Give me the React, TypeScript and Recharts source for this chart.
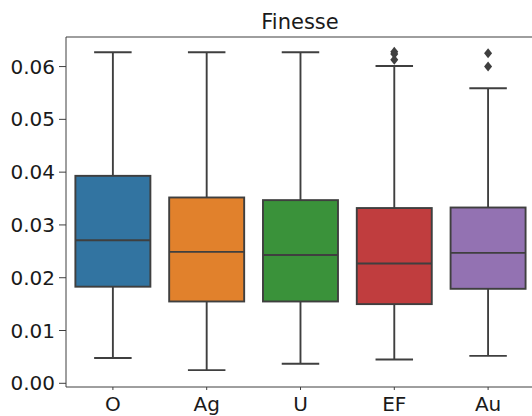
import React from 'react';
import { ComposedChart, Bar, XAxis, YAxis, ReferenceLine } from 'recharts';

// groups on the x axis
const categories = ['O', 'Ag', 'U', 'EF', 'Au'];
// box plot statistics
const whiskerLow = [0.0048, 0.0025, 0.0037, 0.0045, 0.0052];
const q1 = [0.0183, 0.0155, 0.0155, 0.0150, 0.0179];
const median = [0.0271, 0.0249, 0.0243, 0.0227, 0.0247];
const q3 = [0.0393, 0.0352, 0.0347, 0.0332, 0.0333];
const whiskerHigh = [0.0627, 0.0627, 0.0627, 0.0601, 0.0559];
const outliers: number[][] = [[], [], [], [0.0628, 0.0624, 0.0613], [0.0625, 0.0600]];
const yTicks = [0, 0.01, 0.02, 0.03, 0.04, 0.05, 0.06];
const yMin = -0.0007;
const yMax = 0.0656;

const COLORS = ['#3274a1', '#e1812c', '#3a923a', '#c03d3e', '#9372b2'];
const LINE = '#3f3f3f';
const FONT = '"DejaVu Sans", sans-serif';
const LW = 1.9;

const data = categories.map((name, i) => ({
  name,
  range: [whiskerLow[i], whiskerHigh[i]],
  low: whiskerLow[i],
  q1: q1[i],
  median: median[i],
  q3: q3[i],
  high: whiskerHigh[i],
  outliers: outliers[i],
}));

// the bar spans low..high whisker, so its pixel box gives the y scale for the rest
const BoxShape = (props: any) => {
  const { x, y, width, height, payload, index } = props;
  const { low, high } = payload;
  const ppu = height / (high - low);
  const py = (v: number) => y + (high - v) * ppu;
  const cx = x + width / 2;
  const cap = width / 4;
  const top = py(payload.q3);
  const bot = py(payload.q1);
  const med = py(payload.median);
  return (
    <g>
      <line x1={cx} x2={cx} y1={py(high)} y2={top} stroke={LINE} strokeWidth={LW} />
      <line x1={cx} x2={cx} y1={bot} y2={py(low)} stroke={LINE} strokeWidth={LW} />
      <line x1={cx - cap} x2={cx + cap} y1={py(high)} y2={py(high)} stroke={LINE} strokeWidth={LW} />
      <line x1={cx - cap} x2={cx + cap} y1={py(low)} y2={py(low)} stroke={LINE} strokeWidth={LW} />
      <rect x={x} y={top} width={width} height={bot - top} fill={COLORS[index]} stroke={LINE} strokeWidth={LW} />
      <line x1={x} x2={x + width} y1={med} y2={med} stroke={LINE} strokeWidth={LW} />
      {payload.outliers.map((v: number, k: number) => {
        const oy = py(v);
        return (
          <polygon
            key={k}
            points={`${cx},${oy - 5} ${cx + 4},${oy} ${cx},${oy + 5} ${cx - 4},${oy}`}
            fill={LINE}
          />
        );
      })}
    </g>
  );
};

export default function App() {
  return (
    <div style={{ position: 'absolute', left: 0, top: 0, width: 532, height: 416, overflow: 'hidden', background: '#fff' }}>
      <svg width={532} height={40} style={{ position: 'absolute', left: 0, top: 0 }}>
        <text x={300} y={29} textAnchor="middle" fontFamily={FONT} fontSize={21} fill="#1a1a1a">
          Finesse
        </text>
      </svg>
      <ComposedChart
        width={537}
        height={416}
        data={data}
        margin={{ top: 37, right: 2, left: 0, bottom: 0 }}
        barCategoryGap="10%"
      >
        <XAxis
          dataKey="name"
          height={29}
          tickSize={3}
          tickMargin={7}
          stroke={LINE}
          tick={{ fontSize: 20, fontFamily: FONT, fill: '#1a1a1a' }}
        />
        <YAxis
          type="number"
          width={66}
          domain={[yMin, yMax]}
          ticks={yTicks}
          allowDataOverflow
          tickFormatter={(v: number) => v.toFixed(2)}
          tickSize={7}
          tickMargin={4}
          stroke={LINE}
          tick={{ fontSize: 20, fontFamily: FONT, fill: '#1a1a1a' }}
        />
        <ReferenceLine y={yMax} stroke={LINE} strokeWidth={1.2} />
        <Bar dataKey="range" shape={<BoxShape />} isAnimationActive={false} />
      </ComposedChart>
    </div>
  );
}
